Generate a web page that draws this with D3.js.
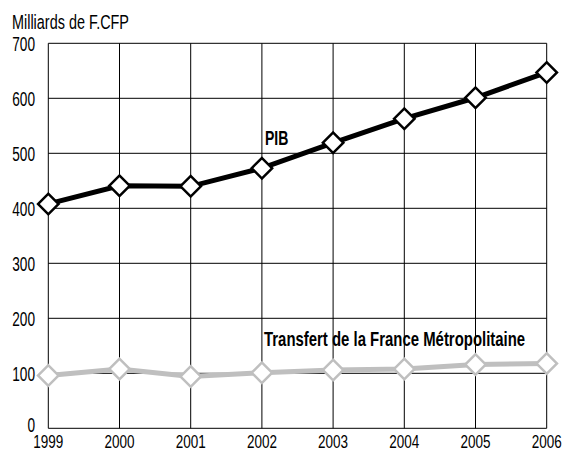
<html>
  <head>
    <meta charset="utf-8" />
    <script src="https://cdnjs.cloudflare.com/ajax/libs/d3/7.6.1/d3.min.js"></script>
    <style>
      body { margin: 0; background: #fff; }
      svg { font-family: "Liberation Sans", "DejaVu Sans", sans-serif; }
    </style>
  </head>
  <body>
    <svg width="563" height="452"></svg>
  </body>
  <script>
    let years = [1999, 2000, 2001, 2002, 2003, 2004, 2005, 2006];
    let pib = [408, 441, 440, 473, 519, 563, 601, 647];
    let transfert = [96, 108, 94, 101, 106, 108, 116, 118];
    let yTicks = [0, 100, 200, 300, 400, 500, 600, 700];

    let svg = d3.select("svg");
    let x = d3.scaleLinear().domain([1999, 2006]).range([48.3, 546.7]);
    let y = d3.scaleLinear().domain([0, 700]).range([428.3, 43.3]);

    // condensed text: the original uses a narrow face, squeeze horizontally
    function label(g, tx, ty, str, opts) {
      let t = g.append("text")
        .attr("transform", `translate(${tx},${ty}) scale(${opts.sx || 0.7},1)`)
        .attr("text-anchor", opts.anchor || "start")
        .style("font-size", (opts.size || 19.5) + "px")
        .style("font-weight", opts.bold ? "bold" : "normal")
        .text(str);
      return t;
    }

    // grid
    svg.append("g")
      .selectAll("line")
      .data(yTicks)
      .enter()
      .append("line")
      .attr("x1", x(1999)).attr("x2", x(2006))
      .attr("y1", (d) => y(d)).attr("y2", (d) => y(d))
      .style("stroke", "#000").style("stroke-width", 1);
    svg.append("g")
      .selectAll("line")
      .data(years)
      .enter()
      .append("line")
      .attr("x1", (d) => x(d)).attr("x2", (d) => x(d))
      .attr("y1", y(0)).attr("y2", y(700))
      .style("stroke", "#000").style("stroke-width", 1);

    // tick labels
    let yl = svg.append("g");
    yTicks.forEach((d) => label(yl, 35, Math.min(y(d) + 7.5, 432), d, { anchor: "end" }));
    let xl = svg.append("g");
    years.forEach((d) => label(xl, x(d), 447.5, d, { anchor: "middle", size: 18.5, sx: 0.73 }));

    label(svg, 12, 29, "Milliards de F.CFP", { size: 19.5, sx: 0.74 });

    let line = d3.line().x((d, i) => x(years[i])).y((d) => y(d));
    let diamond = d3.symbol().type(d3.symbolSquare).size(210);

    function series(data, color) {
      svg.append("path")
        .attr("d", line(data))
        .style("fill", "none")
        .style("stroke", color)
        .style("stroke-width", 5);
      svg.append("g")
        .selectAll("path")
        .data(data)
        .enter()
        .append("path")
        .attr("d", diamond)
        .attr("transform", (d, i) => `translate(${x(years[i])},${y(d)}) rotate(45)`)
        .style("fill", "#fff")
        .style("stroke", color)
        .style("stroke-width", 2.5);
    }
    series(transfert, "#bfbfbf");
    series(pib, "#000");

    label(svg, 265, 145, "PIB", { bold: true, sx: 0.72 });
    label(svg, 264, 346, "Transfert de la France Métropolitaine", { bold: true, sx: 0.765 });
  </script>
</html>
